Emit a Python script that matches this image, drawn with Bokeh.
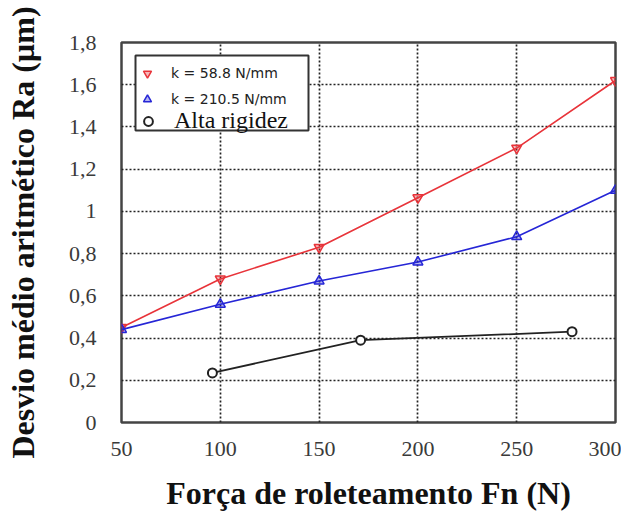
from bokeh.plotting import figure
from bokeh.models import (Legend, LegendItem, BoxAnnotation, FixedTicker, Range1d)
from bokeh.embed import file_html
from bokeh.resources import INLINE

# ---- data ----
force = [50, 100, 150, 200, 250, 300]
ra_k58 = [0.45, 0.68, 0.83, 1.065, 1.30, 1.62]
ra_k210 = [0.44, 0.56, 0.67, 0.76, 0.88, 1.10]
force_rigid = [96, 171, 278]
ra_rigid = [0.235, 0.39, 0.43]

x_ticks = [50, 100, 150, 200, 250, 300]
y_ticks = [0, 0.2, 0.4, 0.6, 0.8, 1.0, 1.2, 1.4, 1.6, 1.8]
y_tick_labels = ["0", "0,2", "0,4", "0,6", "0,8", "1", "1,2", "1,4", "1,6", "1,8"]

label_k58 = "k = 58.8 N/mm"
label_k210 = "k = 210.5 N/mm"
label_rigid = "Alta rigidez"

RED = "#e8343a"
BLUE = "#2626d6"
BLACK = "#222222"

p = figure(width=621, height=513, output_backend="svg", toolbar_location=None,
           x_range=Range1d(50, 300), y_range=Range1d(0, 1.8),
           min_border_left=121, min_border_right=6, min_border_top=42, min_border_bottom=91)

p.background_fill_color = "white"
p.border_fill_color = "white"
p.outline_line_color = "#444444"
p.outline_line_width = 2.5

# grid
p.xgrid.ticker = FixedTicker(ticks=x_ticks)
p.ygrid.ticker = FixedTicker(ticks=y_ticks)
p.xgrid.grid_line_color = "#222222"
p.ygrid.grid_line_color = "#222222"
p.xgrid.grid_line_dash = "2 2"
p.ygrid.grid_line_dash = "2 2"
p.xgrid.grid_line_width = 1.7
p.ygrid.grid_line_width = 1.7
p.xgrid.grid_line_alpha = 1.0
p.ygrid.grid_line_alpha = 1.0

# axes
p.xaxis.ticker = FixedTicker(ticks=x_ticks)
p.yaxis.ticker = FixedTicker(ticks=y_ticks)
p.yaxis.major_label_overrides = {t: l for t, l in zip(y_ticks, y_tick_labels)}
for ax in (p.xaxis[0], p.yaxis[0]):
    ax.axis_line_color = None
    ax.major_tick_line_color = None
    ax.minor_tick_line_color = None
    ax.major_tick_out = 0
    ax.major_tick_in = 0
    ax.minor_tick_out = 0
    ax.major_label_text_font = "Liberation Serif"
    ax.major_label_text_font_size = "22px"
    ax.major_label_text_color = "#3a3a3a"
    ax.axis_label_text_font = "Liberation Serif"
    ax.axis_label_text_font_style = "bold"
    ax.axis_label_text_font_size = "32px"
    ax.axis_label_text_color = "#111111"

p.xaxis.major_label_standoff = 19
p.xaxis.axis_label = "Força de roleteamento Fn (N)"
p.xaxis.axis_label_standoff = 16

p.yaxis.major_label_standoff = 25
p.yaxis.major_label_text_align = "center"
p.yaxis.axis_label = "Desvio médio aritmético Ra (µm)"
p.yaxis.axis_label_standoff = 25

# series
r1l = p.line(force, ra_k58, line_color=RED, line_width=1.6)
r1m = p.scatter(force, ra_k58, marker="inverted_triangle", size=10,
                line_color=RED, fill_color=RED, fill_alpha=0.35, line_width=1.5)
r2l = p.line(force, ra_k210, line_color=BLUE, line_width=1.6)
r2m = p.scatter(force, ra_k210, marker="triangle", size=10,
                line_color=BLUE, fill_color=BLUE, fill_alpha=0.35, line_width=1.5)
r3l = p.line(force_rigid, ra_rigid, line_color=BLACK, line_width=1.8)
r3m = p.scatter(force_rigid, ra_rigid, marker="circle", size=9,
                line_color=BLACK, fill_color="white", line_width=2)

# legend frame: white box above the grid, below the legends
box = BoxAnnotation(left=14, right=187, top=367, bottom=292,
                    left_units="screen", right_units="screen",
                    top_units="screen", bottom_units="screen",
                    fill_color="white", fill_alpha=1.0, level="underlay",
                    line_color="#333333", line_width=2, line_alpha=1.0)
p.add_layout(box)

leg_a = Legend(items=[LegendItem(label=label_k58, renderers=[r1m]),
                      LegendItem(label=label_k210, renderers=[r2m])],
               location=(16, 313), padding=4, spacing=6, margin=0,
               label_height=20, glyph_height=20, glyph_width=20, label_standoff=14,
               label_text_font="DejaVu Sans", label_text_font_size="14px",
               label_text_color="#222222",
               border_line_color=None, background_fill_alpha=0.0)
leg_b = Legend(items=[LegendItem(label=label_rigid, renderers=[r3m])],
               location=(15, 288), padding=0, spacing=0, margin=0,
               label_height=22, glyph_height=22, glyph_width=24, label_standoff=14,
               label_text_font="Liberation Serif", label_text_font_size="24px",
               label_text_color="#111111",
               border_line_color=None, background_fill_alpha=0.0)
p.add_layout(leg_a)
p.add_layout(leg_b)

open("out.html", "w").write(file_html(p, INLINE))
